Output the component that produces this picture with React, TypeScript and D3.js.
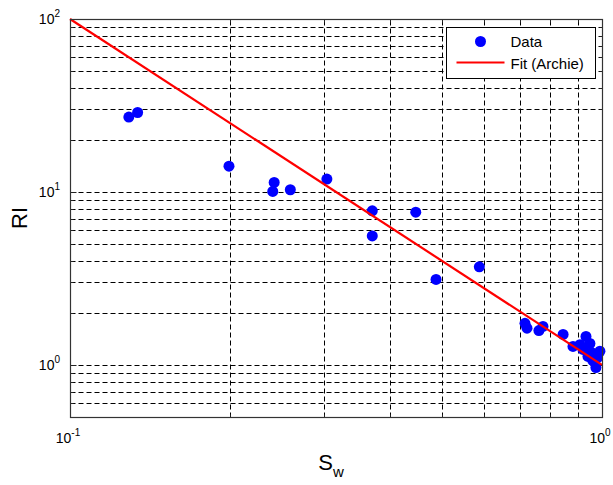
import React from "react";
import * as d3 from "d3";

// Water saturation (Sw) and resistivity index (RI) measurements
const sw = [
  0.129, 0.134, 0.199, 0.242, 0.2405, 0.2595, 0.304, 0.37, 0.37, 0.4466, 0.4876, 0.588,
  0.7165, 0.7228, 0.761, 0.7746, 0.845, 0.882, 0.909, 0.933, 0.949, 0.921, 0.991, 0.941,
  0.974, 0.961, 0.98, 0.955,
];
const ri = [
  27.1, 28.8, 14.1, 11.35, 10.07, 10.3, 11.88, 7.78, 5.57, 7.64, 3.12, 3.69,
  1.74, 1.63, 1.58, 1.67, 1.5, 1.28, 1.31, 1.46, 1.33, 1.23, 1.2, 1.12,
  0.966, 1.06, 1.1, 1.18,
];

// Archie fit: RI = Sw^-n
const archieN = 2;
const fitSw = [0.1, 1];

const xDomain = [0.1, 1];
const yDomain = [0.5, 100];
const xMajor = [0.1, 1];
const xMajorExp = ["-1", "0"];
const yMajor = [1, 10, 100];
const yMajorExp = ["0", "1", "2"];

const W = 613;
const H = 485;
const M = { left: 70, right: 11, top: 19, bottom: 68 };

export default function App() {
  const x = d3.scaleLog().domain(xDomain).range([M.left, W - M.right]);
  const y = d3.scaleLog().domain(yDomain).range([H - M.bottom, M.top]);
  const x0 = M.left, x1 = W - M.right, y0 = H - M.bottom, y1 = M.top;
  const px = (v: number) => Math.round(x(v)) + 0.5;
  const py = (v: number) => Math.round(y(v)) + 0.5;

  // minor positions (2..9 per decade) within the domain
  const minorVals = (lo: number, hi: number) => {
    const out: number[] = [];
    for (let e = Math.floor(Math.log10(lo)); e <= Math.ceil(Math.log10(hi)); e++) {
      for (let k = 1; k <= 9; k++) {
        const v = k * Math.pow(10, e);
        if (v >= lo * 0.999 && v <= hi * 1.001) out.push(v);
      }
    }
    return out;
  };
  const xGrid = minorVals(xDomain[0], xDomain[1]);
  const yGrid = minorVals(yDomain[0], yDomain[1]);
  const isMajor = (v: number) => Math.abs(Math.log10(v) - Math.round(Math.log10(v))) < 1e-6;

  const fitLine = d3
    .line<number>()
    .x((d) => x(d))
    .y((d) => y(Math.pow(d, -archieN)));

  const font = "'Liberation Sans', Arial, Helvetica, sans-serif";
  const dash = "5,3";
  const gridColor = "#000";

  const lx = 446.5, ly = 27.5, lw = 149, lh = 51;
  const bx0 = x0 + 0.5, bx1 = Math.round(x1) + 0.5, by0 = Math.round(y0) + 0.5, by1 = y1 + 0.5;

  return (
    <svg width={W} height={H} style={{ position: "absolute", left: 0, top: 0, background: "#fff" }} fontFamily={font}>
      <rect x={0} y={0} width={W} height={H} fill="#fff" />
      {/* grid */}
      {xGrid.filter((v) => x(v) > x0 + 1 && x(v) < x1 - 1).map((v, i) => (
        <line key={"gx" + i} x1={px(v)} x2={px(v)} y1={by0} y2={by1} stroke={gridColor} strokeWidth={1} strokeDasharray={dash} />
      ))}
      {yGrid.filter((v) => y(v) < y0 - 1 && y(v) > y1 + 1).map((v, i) => (
        <line key={"gy" + i} x1={bx0} x2={bx1} y1={py(v)} y2={py(v)} stroke={gridColor} strokeWidth={1} strokeDasharray={dash} />
      ))}
      {/* ticks */}
      {xGrid.map((v, i) => {
        const len = isMajor(v) ? 6 : 3;
        return (
          <g key={"tx" + i}>
            <line x1={px(v)} x2={px(v)} y1={by0} y2={by0 - len} stroke="#222" />
            <line x1={px(v)} x2={px(v)} y1={by1} y2={by1 + len} stroke="#222" />
          </g>
        );
      })}
      {yGrid.map((v, i) => {
        const len = isMajor(v) ? 6 : 3;
        return (
          <g key={"ty" + i}>
            <line x1={bx0} x2={bx0 + len} y1={py(v)} y2={py(v)} stroke="#222" />
            <line x1={bx1} x2={bx1 - len} y1={py(v)} y2={py(v)} stroke="#222" />
          </g>
        );
      })}
      {/* data */}
      {sw.map((s, i) => (
        <circle key={"p" + i} cx={x(s)} cy={y(ri[i])} r={5.5} fill="#0000ff" />
      ))}
      {/* fit */}
      <path d={fitLine(fitSw) || ""} fill="none" stroke="#ff0000" strokeWidth={2.2} />
      {/* axes box */}
      <rect x={bx0} y={by1} width={bx1 - bx0} height={by0 - by1} fill="none" stroke="#333" strokeWidth={1.2} />
      {/* x tick labels */}
      {xMajor.map((v, i) => (
        <text key={"xl" + i} x={x(v) - 2} y={y0 + 26} fontSize={14} textAnchor="middle" fill="#000">
          10
          <tspan dy={-7} fontSize={10}>{xMajorExp[i]}</tspan>
        </text>
      ))}
      {/* y tick labels */}
      {yMajor.map((v, i) => (
        <text key={"yl" + i} x={x0 - 10} y={y(v) + 5} fontSize={14} textAnchor="end" fill="#000">
          10
          <tspan dy={-7} fontSize={10}>{yMajorExp[i]}</tspan>
        </text>
      ))}
      {/* axis titles */}
      <text x={331} y={470} fontSize={22} textAnchor="middle" fill="#000">
        S<tspan dy={7} fontSize={15}>w</tspan>
      </text>
      <text transform={`translate(27,${(y0 + y1) / 2}) rotate(-90)`} fontSize={22} textAnchor="middle" fill="#000">
        RI
      </text>
      {/* legend */}
      <rect x={lx} y={ly} width={lw} height={lh} fill="#fff" stroke="#000" strokeWidth={1} />
      <circle cx={lx + 34} cy={ly + 14} r={5.5} fill="#0000ff" />
      <text x={lx + 64} y={ly + 19} fontSize={15} fill="#000">Data</text>
      <line x1={lx + 10} x2={lx + 58} y1={ly + 35} y2={ly + 35} stroke="#ff0000" strokeWidth={2} />
      <text x={lx + 64} y={ly + 41} fontSize={15} fill="#000">Fit (Archie)</text>
    </svg>
  );
}
